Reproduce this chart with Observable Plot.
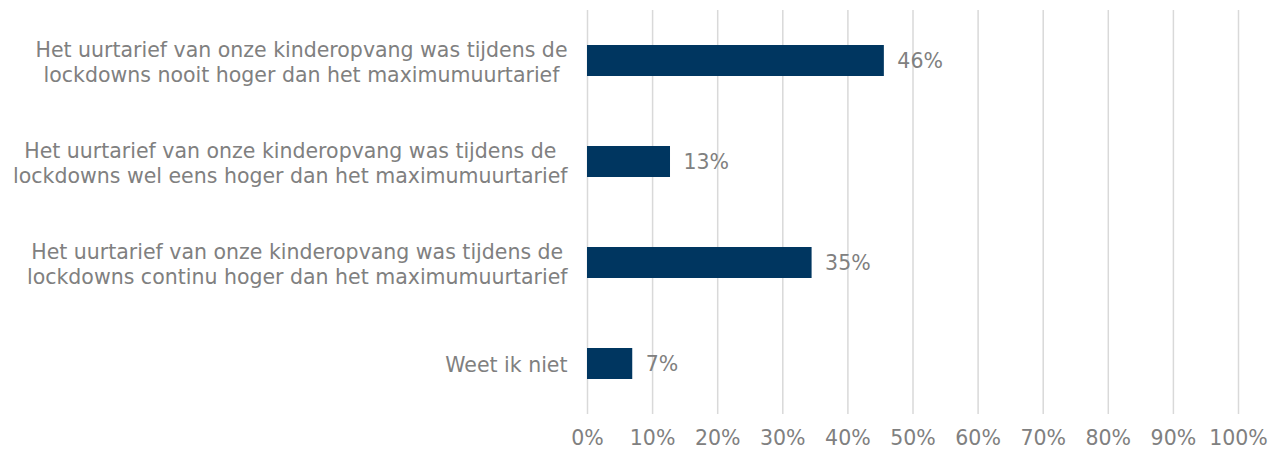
<!DOCTYPE html>
<html><head><meta charset="utf-8">
<script src="https://cdn.jsdelivr.net/npm/d3@7"></script>
<script src="https://cdn.jsdelivr.net/npm/@observablehq/plot@0.6"></script>
<style>body{margin:0;background:#fff;}</style>
</head><body><div id="chart"></div>
<script>
const categories = ["nooit", "welEens", "continu", "weetNiet"];
const labelLines = [
  ["Het uurtarief van onze kinderopvang was tijdens de", "lockdowns nooit hoger dan het maximumuurtarief"],
  ["Het uurtarief van onze kinderopvang was tijdens de", "lockdowns wel eens hoger dan het maximumuurtarief"],
  ["Het uurtarief van onze kinderopvang was tijdens de", "lockdowns continu hoger dan het maximumuurtarief"],
  ["Weet ik niet"]
];
const values = [45.6, 12.75, 34.5, 6.95];
const valueLabels = ["46%", "13%", "35%", "7%"];
const xTicks = [0, 10, 20, 30, 40, 50, 60, 70, 80, 90, 100];

const FONT = "DejaVu Sans";
const FS = 20.5;
const GREY = "#808080";

const data = categories.map((c, i) => ({cat: c, value: values[i], label: valueLabels[i], lines: labelLines[i]}));

const ctx = document.createElement("canvas").getContext("2d");
ctx.font = `${FS}px "${FONT}"`;
const maxW = lines => Math.max(...lines.map(l => ctx.measureText(l).width));

const labelMarks = data.map(d => Plot.text([d], {
  y: "cat",
  text: r => r.lines.join("\n"),
  frameAnchor: "left",
  textAnchor: "middle",
  dx: -20 - maxW(d.lines) / 2,
  lineHeight: 1.22,
  fill: GREY,
  fontSize: FS
}));

const chart = Plot.plot({
  width: 1269,
  height: 450,
  marginLeft: 587,
  marginRight: 31,
  marginTop: 10,
  marginBottom: 36,
  style: {fontFamily: FONT, fontSize: FS + "px", color: GREY, background: "#fff"},
  x: {domain: [0, 100], label: null},
  y: {domain: categories, padding: 0, axis: null, label: null},
  marks: [
    Plot.ruleX(xTicks, {stroke: "#d9d9d9", strokeWidth: 1.5}),
    Plot.barX(data, {x: "value", y: "cat", fill: "#003660", insetTop: 35, insetBottom: 35}),
    Plot.text(data, {x: "value", y: "cat", text: "label", textAnchor: "start", dx: 13, fill: GREY, fontSize: FS}),
    ...labelMarks,
    Plot.axisX({ticks: xTicks, tickFormat: d => d + "%", tickSize: 0, tickPadding: 16, fontSize: FS, fill: GREY, label: null})
  ]
});
document.getElementById("chart").appendChild(chart);
</script>
</body></html>
